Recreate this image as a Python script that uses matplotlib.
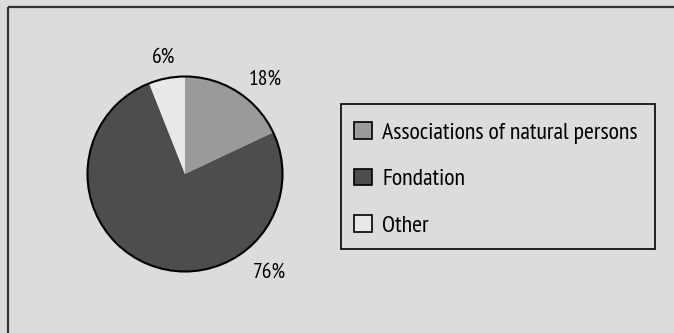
import matplotlib.pyplot as plt
from matplotlib.patches import Patch, Rectangle, Circle

# data
labels = ["Associations of natural persons", "Fondation", "Other"]
shares = [18, 76, 6]
colors = ["#9a9a9a", "#4d4d4d", "#e8e8e8"]
pct_text = ["18%", "76%", "6%"]

# where the percentage labels sit (pixels from top-left)
pct_pos = [(265, 79), (269, 272), (164, 57)]

plt.rcParams["font.family"] = ["PT Sans Narrow", "Roboto Condensed", "DejaVu Sans"]

W, H = 674, 333
bg = "#dcdcdc"

fig = plt.figure(figsize=(W / 100, H / 100), dpi=100, facecolor=bg)
ax = fig.add_axes([0, 0, 1, 1])

cx, cy, r = 185, 174, 97.5
# y axis is flipped, so counterclock=True draws clockwise on screen
wedges, _ = ax.pie(shares, colors=colors, startangle=-90, counterclock=True,
                   center=(cx, cy), radius=r, frame=True,
                   wedgeprops=dict(linewidth=0))
ax.set_xlim(0, W)
ax.set_ylim(H, 0)
ax.set_aspect("equal")
ax.axis("off")
ax.add_patch(Circle(wedges[0].center, wedges[0].r, fill=False,
                    edgecolor="black", linewidth=1.5))

# outer frame (only left and top edges are inside the picture)
ax.add_patch(Rectangle((8, 7), W, H, fill=False, edgecolor="#333333", linewidth=1.6))

for txt, (x, y) in zip(pct_text, pct_pos):
    ax.text(x, y, txt, ha="center", va="center", fontsize=15.5, color="black")

# legend box
ax.add_patch(Rectangle((341, 104), 314, 145, facecolor=bg, edgecolor="black", linewidth=1.2))
handles = [Patch(facecolor=c, edgecolor="black", linewidth=1.2) for c in colors]
leg = ax.legend(handles, labels, loc="upper left",
                bbox_to_anchor=(354 / W, 1 - 122 / H), frameon=False,
                fontsize=17.2, handlelength=0.74, handleheight=0.7,
                handletextpad=0.45, labelspacing=1.04, borderpad=0,
                borderaxespad=0)

fig.savefig("out.png", dpi=100, facecolor=bg)
